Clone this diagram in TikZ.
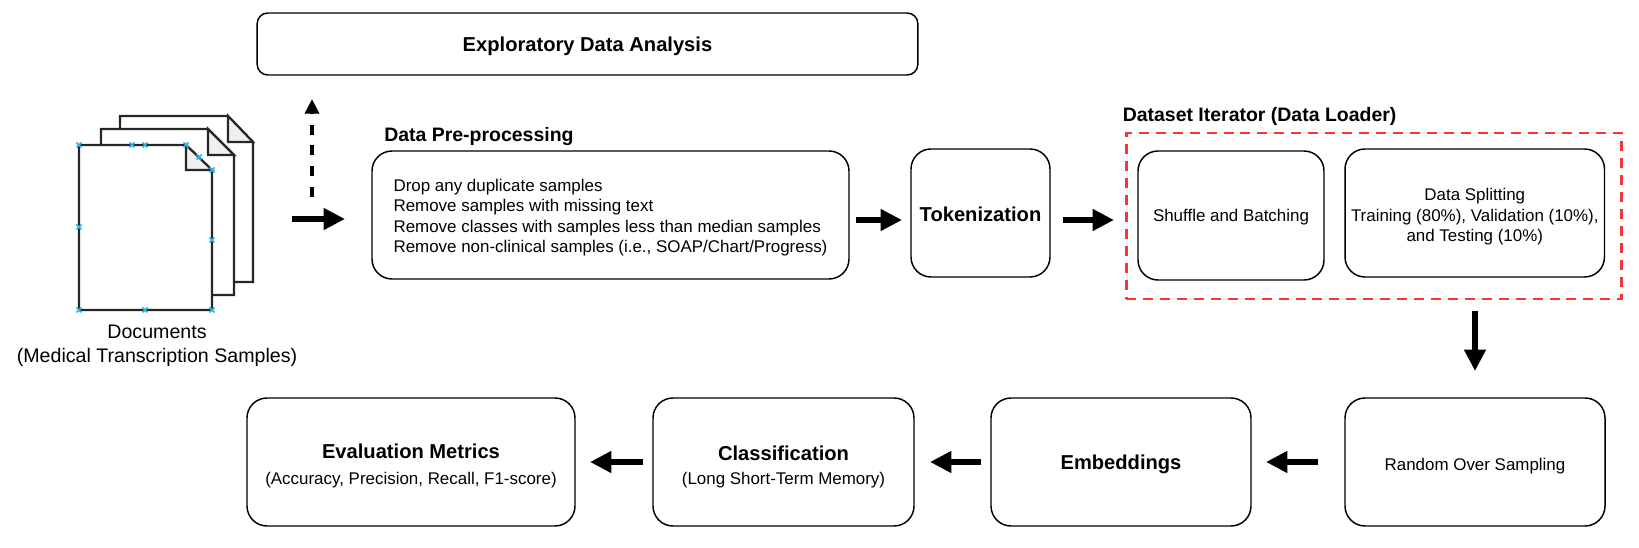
\documentclass[tikz,border=0pt]{standalone}
\usepackage{fontspec}
\setmainfont{Liberation Sans}
\usetikzlibrary{arrows.meta}
\definecolor{redd}{HTML}{FF3333}
\definecolor{foldc}{HTML}{F0F0F0}
\definecolor{markc}{HTML}{29B6E8}
\newcommand{\bodyf}{\fontsize{12.7}{15.6}\selectfont}
\newcommand{\pref}{\fontsize{12.7}{15.45}\selectfont}
\newcommand{\headf}{\fontsize{15.1}{17}\selectfont\bfseries}
\newcommand{\titlef}{\fontsize{14.6}{17}\selectfont\bfseries}
\newcommand{\dn}[2]{\raisebox{-#1}[\height][\depth]{#2}}
\newcommand{\page}[6]{% left top right bottom foldx foldy
  \filldraw[docline,fill=white] (#1,#2) -- (#5,#2) -- (#3,#6) -- (#3,#4) -- (#1,#4) -- cycle;
  \filldraw[docline,fill=foldc] (#5,#2) -- (#3,#6) -- (#5,#6) -- cycle;}
\newcommand{\xmark}[2]{\draw[markc,line width=1.1pt] (#1-2.5,#2-2.5) -- (#1+2.5,#2+2.5) (#1-2.5,#2+2.5) -- (#1+2.5,#2-2.5);}
\tikzset{
  x=0.75pt,y=-0.75pt,
  docline/.style={draw=black!85,line width=1.6pt,line join=miter},
  bx/.style={draw=black,line width=1.1pt,rounded corners=15pt,inner sep=0pt,align=center,font=\bodyf,fill=white},
  flow/.style={draw=black,line width=4.2pt,-{Triangle[length=16pt,width=15.5pt]}},
  dflow/.style={draw=black,line width=3pt,dash pattern=on 7.5pt off 8.1pt,-{Triangle[length=11pt,width=10.5pt]}},
  lbl/.style={inner sep=0pt,align=center},
}
\begin{document}
\begin{tikzpicture}
\useasboundingbox (0,0) rectangle (1639,548);
\fill[white] (0,0) rectangle (1639,548);
% documents
\page{120}{116}{253}{282}{228}{142}
\page{101}{129}{234}{295}{208}{155}
\page{79}{145}{212}{310}{186}{170}
\foreach \a/\b in {79/145,132/145,145/145,186/145,199/157,212/170,212/240,145/310,212/310,79/310,79/227}{\xmark{\a}{\b}}
\node[lbl,font=\fontsize{14.7}{18}\selectfont] (docs) at (157,346) {Documents\\(Medical Transcription Samples)};
% boxes
\node[bx,rounded corners=8pt,minimum width=495.5pt,minimum height=46.5pt,font=\headf] (eda) at (587.5,44) {\dn{1.5pt}{Exploratory Data Analysis}};
\node[bx,minimum width=357.75pt,minimum height=96pt,font=\pref] (pre) at (610.5,215) {\dn{2.2pt}{\begin{tabular}{@{}l@{}}Drop any duplicate samples\\Remove samples with missing text\\Remove classes with samples less than median samples\\Remove non-clinical samples (i.e., SOAP/Chart/Progress)\end{tabular}}};
\node[lbl,font=\titlef,anchor=west] (pretitle) at (384,137) {Data Pre-processing};
\node[bx,minimum width=104.25pt,minimum height=96pt,font=\headf] (tok) at (980.5,213) {\dn{1pt}{Tokenization}};
\node[draw=redd,line width=2pt,dash pattern=on 7.5pt off 5.2pt,minimum width=371.7pt,minimum height=124.5pt,inner sep=0pt] (iter) at (1374,216) {};
\node[lbl,font=\titlef,anchor=west] (itertitle) at (1122.5,116) {Dataset Iterator (Data Loader)};
\node[bx,minimum width=139.5pt,minimum height=96.75pt] (shuf) at (1231,215.5) {\dn{1.5pt}{Shuffle and Batching}};
\node[bx,minimum width=194.6pt,minimum height=96pt] (split) at (1474.75,213) {\dn{3pt}{\begin{tabular}{@{}c@{}}Data Splitting\\Training (80\%), Validation (10\%),\\and Testing (10\%)\end{tabular}}};
\node[bx,minimum width=195pt,minimum height=96pt] (ros) at (1475,462) {\dn{3pt}{Random Over Sampling}};
\node[bx,minimum width=195pt,minimum height=96pt,font=\headf] (emb) at (1121,462) {\dn{2pt}{Embeddings}};
\node[bx,minimum width=195.75pt,minimum height=96pt] (cls) at (783.5,462) {\dn{4.5pt}{\begin{tabular}{@{}c@{}}{\headf Classification}\\[2.6pt](Long Short-Term Memory)\end{tabular}}};
\node[bx,minimum width=246pt,minimum height=96pt] (eval) at (411,462) {\dn{3.8pt}{\begin{tabular}{@{}c@{}}{\headf Evaluation Metrics}\\[3.6pt](Accuracy, Precision, Recall, F1-score)\end{tabular}}};
% arrow free ends
\coordinate (a1s) at (292,219); \coordinate (a1e) at (345,219);
\coordinate (d1s) at (312,197); \coordinate (d1e) at (312,99);
\coordinate (a2s) at (856,220); \coordinate (a2e) at (902,220);
\coordinate (a3s) at (1063,220); \coordinate (a3e) at (1114,220);
\coordinate (a4s) at (1475,311); \coordinate (a4e) at (1475,371);
\coordinate (a5s) at (1318,462); \coordinate (a5e) at (1266,462);
\coordinate (a6s) at (981,462); \coordinate (a6e) at (930,462);
\coordinate (a7s) at (643,462); \coordinate (a7e) at (590,462);
\draw[flow] (a1s) -- (a1e);
\draw[dflow] (d1s) -- (d1e);
\draw[flow] (a2s) -- (a2e);
\draw[flow] (a3s) -- (a3e);
\draw[flow] (a4s) -- (a4e);
\draw[flow] (a5s) -- (a5e);
\draw[flow] (a6s) -- (a6e);
\draw[flow] (a7s) -- (a7e);
\end{tikzpicture}
\end{document}
